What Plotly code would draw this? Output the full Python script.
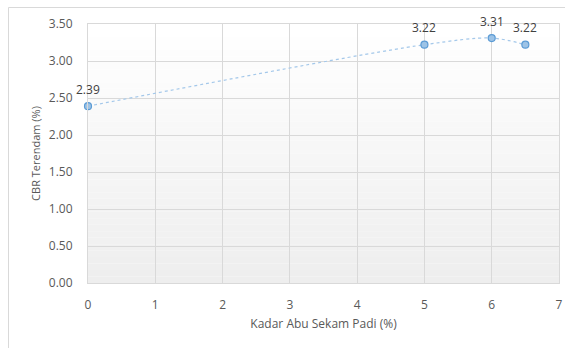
import plotly.graph_objects as go

# CBR soaked values vs rice husk ash content
kadar_abu = [0, 5, 6, 6.5]
cbr_terendam = [2.39, 3.22, 3.31, 3.22]
label_teks = [f"{v:.2f}" for v in cbr_terendam]

x_ticks = [0, 1, 2, 3, 4, 5, 6, 7]
y_ticks = [0.0, 0.5, 1.0, 1.5, 2.0, 2.5, 3.0, 3.5]

W, H = 574, 348
L, R, T, B = 88, 15, 24, 65
pw, ph = W - L - R, H - T - B

text_col = "#595959"
grid_col = "#d9d9d9"
font_fam = "Open Sans, Liberation Sans, sans-serif"
fs = 12

fig = go.Figure()
fig.add_trace(go.Scatter(
    x=kadar_abu, y=cbr_terendam,
    mode="lines+markers",
    line=dict(color="#a4c8ea", width=1.2, dash="dot", shape="spline", smoothing=0.9),
    marker=dict(size=7, color="#9dc3e6", line=dict(color="#5b9bd5", width=1.2)),
    cliponaxis=False, showlegend=False,
))

# value labels above each point
for xv, yv, txt in zip(kadar_abu, cbr_terendam, label_teks):
    fig.add_annotation(
        x=xv, y=yv, text=txt, showarrow=False, yshift=17,
        font=dict(family=font_fam, size=fs, color="#404040"),
    )

# vertical gradient for the plot area: white at top, light gray at bottom
shapes = []
n = 40
for i in range(n):
    t = i / (n - 1)
    c = int(round(255 - t * 17))
    shapes.append(dict(
        type="rect", xref="x domain", yref="y domain",
        x0=0, x1=1, y0=1 - (i + 1) / n, y1=1 - i / n,
        fillcolor=f"rgb({c},{c},{c})", line=dict(width=0), layer="below",
    ))

# outer chart frame (left and top edges)
def px_to_paper_x(px):
    return (px - L) / pw

def px_to_paper_y(py):
    return 1 - (py - T) / ph

shapes.append(dict(type="line", xref="paper", yref="paper",
                   x0=px_to_paper_x(8.5), x1=px_to_paper_x(565),
                   y0=px_to_paper_y(7.5), y1=px_to_paper_y(7.5),
                   line=dict(color=grid_col, width=1)))
shapes.append(dict(type="line", xref="paper", yref="paper",
                   x0=px_to_paper_x(8.5), x1=px_to_paper_x(8.5),
                   y0=px_to_paper_y(7.5), y1=px_to_paper_y(348),
                   line=dict(color=grid_col, width=1)))

fig.update_layout(
    width=W, height=H,
    margin=dict(l=L, r=R, t=T, b=B),
    paper_bgcolor="white", plot_bgcolor="rgba(0,0,0,0)",
    font=dict(family=font_fam, size=fs, color=text_col),
    shapes=shapes,
    xaxis=dict(
        range=[0, 7], tickvals=x_ticks, ticktext=[str(v) for v in x_ticks],
        showgrid=True, gridcolor=grid_col, gridwidth=1,
        showline=True, linecolor=grid_col, mirror=True,
        zeroline=False, ticks="", ticklabelstandoff=11,
        title=dict(text="Kadar Abu Sekam Padi (%)", standoff=7,
                   font=dict(family=font_fam, size=fs, color=text_col)),
    ),
    yaxis=dict(
        range=[0, 3.5], tickvals=y_ticks, ticktext=[f"{v:.2f}" for v in y_ticks],
        showgrid=True, gridcolor=grid_col, gridwidth=1,
        showline=True, linecolor=grid_col, mirror=True,
        zeroline=False, ticks="", ticklabelstandoff=12,
        title=dict(text="CBR Terendam (%)", standoff=5,
                   font=dict(family=font_fam, size=fs - 1, color=text_col)),
    ),
)

fig.write_html("out.html")
